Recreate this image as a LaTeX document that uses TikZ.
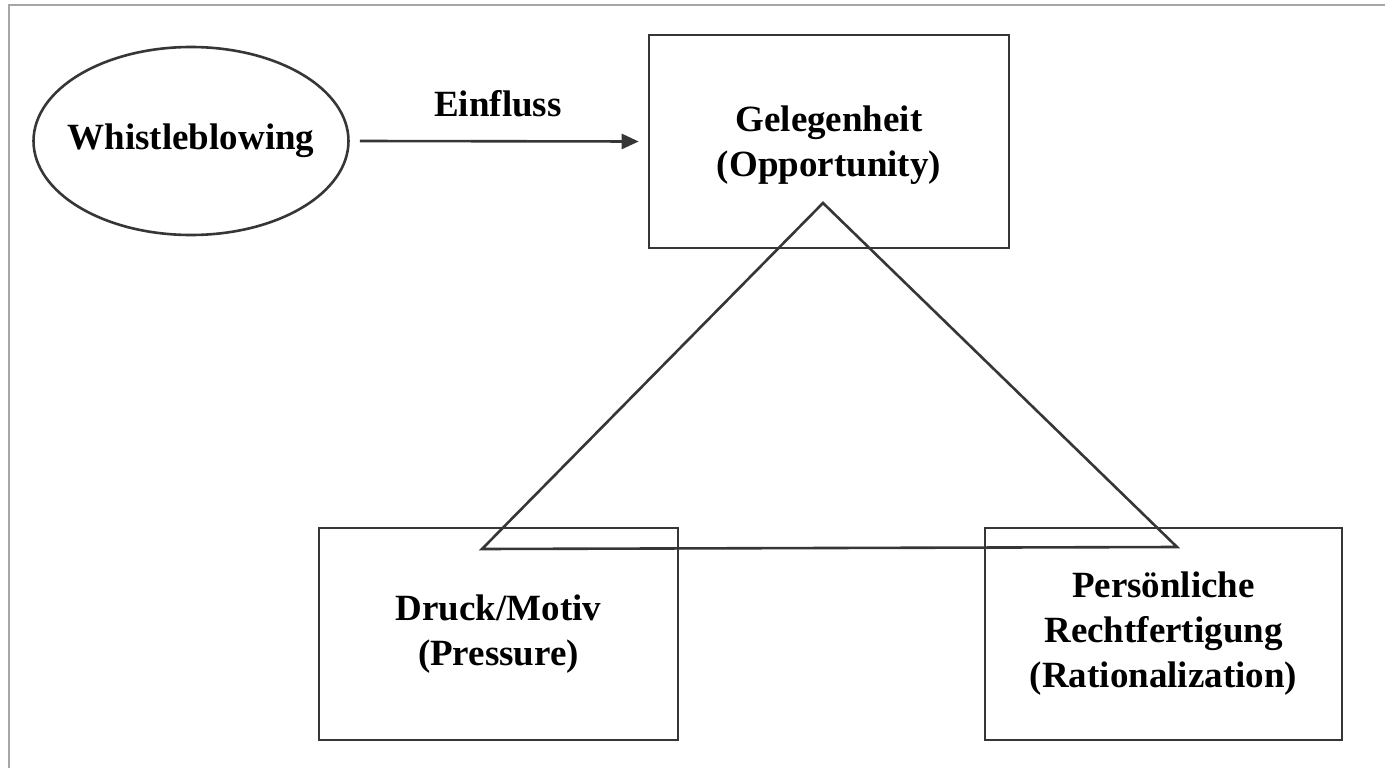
\documentclass[tikz,border=0pt]{standalone}
\usepackage{fontspec}
\setmainfont{Liberation Serif}
\usetikzlibrary{shapes.geometric,arrows.meta}
\definecolor{ink}{HTML}{363636}
\definecolor{frame}{HTML}{A6A6A6}
\begin{document}
\begin{tikzpicture}[x=1pt,y=-1pt,
  lbl/.style={font=\bfseries\fontsize{37}{45}\selectfont, text=black},
  boxnode/.style={draw=ink, line width=2.6pt, rectangle, inner sep=0pt, align=center, lbl},
  ovalnode/.style={draw=ink, line width=2.6pt, ellipse, inner xsep=-12pt, inner ysep=0pt, lbl},
  conn/.style={draw=ink, line width=2.6pt},
]
\useasboundingbox (0,0) rectangle (1385,768);
% outer frame (top and left)
\draw[frame, line width=2.2pt] (9,768) -- (9,5) -- (1385,5);

\node[ovalnode, minimum height=188pt] (wb) at (191,141) {Whistleblowing};
\node[boxnode, minimum width=360pt, minimum height=213pt] (opp) at (829,141.5) {};
\node[lbl, align=center] (opptext) at (829,145) {Gelegenheit\\(Opportunity)};
\node[boxnode, minimum width=359pt, minimum height=212pt] (prs) at (498.5,634) {Druck/Motiv\\(Pressure)};
\node[boxnode, minimum width=357pt, minimum height=212pt] (rat) at (1163.5,634) {Persönliche\\Rechtfertigung\\(Rationalization)};

\coordinate (astart) at ([xshift=10pt]wb.east);
\coordinate (aend) at ([xshift=-9pt]opp.west);
\draw[conn, -{Triangle[length=17pt,width=15pt]}] (astart) -- (aend);
\node[lbl] (einfl) at (498,104) {Einfluss};

% fraud triangle
\coordinate (tA) at (823,203);
\coordinate (tB) at (482,549);
\coordinate (tC) at (1177,547);
\draw[conn, line join=miter] (tA) -- (tB) -- (tC) -- cycle;
\end{tikzpicture}
\end{document}
